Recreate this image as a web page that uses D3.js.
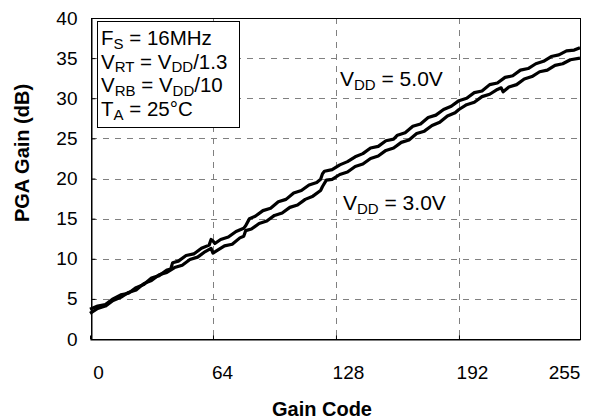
<!DOCTYPE html>
<html>
<head>
<meta charset="utf-8">
<script src="https://cdn.jsdelivr.net/npm/d3@7"></script>
<style>
  body { margin: 0; background: #fff; }
  svg { font-family: "Liberation Sans", Arial, sans-serif; }
</style>
</head>
<body>
<svg id="chart" width="600" height="419"></svg>
<script>
// Gain code vs PGA gain
const codes5 = [0, 4, 8, 12, 16, 20, 24, 28, 32, 36, 40, 42, 43, 46, 50, 54, 58, 62, 63, 64, 65, 68, 72, 76, 80, 81, 83, 86, 90, 94, 98, 102, 106, 110, 114, 118, 120, 121, 122, 126, 130, 134, 138, 142, 146, 150, 154, 158, 160, 164, 168, 172, 176, 180, 184, 188, 192, 196, 200, 204, 208, 212, 216, 220, 224, 228, 232, 236, 240, 244, 248, 252, 255];
const gain5 = [3.7, 4.1, 4.3, 5.0, 5.5, 5.7, 6.4, 6.8, 7.6, 7.9, 8.6, 8.7, 9.5, 9.7, 10.4, 10.6, 11.3, 11.7, 12.4, 12.2, 11.9, 12.4, 12.7, 13.4, 13.8, 14.1, 15.0, 15.3, 16.0, 16.3, 17.1, 17.4, 18.2, 18.5, 19.2, 19.5, 19.9, 20.6, 20.9, 21.1, 21.7, 22.1, 22.7, 23.1, 23.8, 24.0, 24.7, 24.9, 25.4, 25.7, 26.5, 26.8, 27.6, 27.9, 28.6, 29.0, 29.7, 30.0, 30.7, 30.9, 31.7, 31.9, 32.6, 32.8, 33.5, 33.7, 34.3, 34.6, 35.2, 35.4, 35.9, 36.0, 36.3];

const codes3 = [0, 4, 8, 12, 16, 20, 24, 28, 32, 36, 40, 44, 48, 52, 56, 60, 63, 64, 66, 70, 74, 78, 80, 81, 84, 88, 92, 96, 100, 104, 108, 112, 116, 120, 121, 123, 126, 130, 134, 138, 142, 146, 150, 154, 158, 162, 166, 170, 174, 178, 182, 186, 190, 192, 196, 200, 204, 208, 212, 214, 215, 218, 222, 226, 230, 234, 238, 242, 246, 250, 255];
const gain3 = [3.2, 3.8, 4.1, 4.8, 5.2, 5.8, 6.1, 6.9, 7.3, 8.0, 8.3, 8.9, 9.2, 9.9, 10.2, 10.9, 11.3, 10.7, 11.0, 11.6, 11.8, 12.6, 12.8, 13.5, 13.7, 14.4, 14.7, 15.4, 15.7, 16.4, 16.7, 17.4, 17.8, 18.5, 19.0, 19.8, 19.9, 20.5, 20.8, 21.5, 21.8, 22.5, 22.8, 23.5, 23.8, 24.5, 24.8, 25.6, 25.9, 26.6, 27.0, 27.8, 28.2, 28.6, 29.2, 29.5, 30.2, 30.5, 31.1, 31.3, 30.8, 31.4, 31.7, 32.4, 32.7, 33.3, 33.5, 34.1, 34.3, 34.8, 35.0];

const xTicks = [0, 64, 128, 192, 255];
const yTicks = [0, 5, 10, 15, 20, 25, 30, 35, 40];

const svg = d3.select('#chart');

const x = d3.scaleLinear().domain([0, 255]).range([90, 580]);
const y = d3.scaleLinear().domain([0, 40]).range([339, 18]);

// Grid
const grid = svg.append('g').attr('stroke', '#808080').attr('stroke-width', 1)
    .attr('stroke-dasharray', '6,6');
grid.selectAll('.hgrid')
    .data(yTicks.filter(d => d > 0 && d < 40))
    .enter().append('line')
    .attr('x1', x(0) + 1).attr('x2', x(255))
    .attr('y1', d => Math.round(y(d)) + 0.5).attr('y2', d => Math.round(y(d)) + 0.5);
grid.selectAll('.vgrid')
    .data([64, 128, 192])
    .enter().append('line')
    .attr('x1', d => Math.round(x(d)) + 0.5).attr('x2', d => Math.round(x(d)) + 0.5)
    .attr('y1', y(40)).attr('y2', y(0));

// Axes
const xAxis = svg.append('g')
    .attr('transform', 'translate(0,' + (y(0) + 0.5) + ')')
    .call(d3.axisBottom(x).tickValues(xTicks).tickSizeInner(-4).tickSizeOuter(0).tickPadding(26));
const labelShift = {0: 8, 64: 9, 128: 12, 192: 13, 255: -16};
xAxis.selectAll('text')
    .attr('dx', d => labelShift[d])
    .style('font-size', '19px')
    .attr('fill', '#000');
xAxis.select('.domain').attr('stroke', '#000');

const yAxis = svg.append('g')
    .attr('transform', 'translate(' + (x(0) + 1.5) + ',0)')
    .call(d3.axisLeft(y).tickValues(yTicks).tickSizeInner(-4).tickSizeOuter(0).tickPadding(14));
yAxis.selectAll('text').style('font-size', '19px').attr('fill', '#000');
yAxis.select('.domain').attr('stroke', '#000');

// Plot frame
svg.append('rect')
    .attr('x', x(0) + 1.5).attr('y', y(40) + 0.5)
    .attr('width', x(255) - x(0) - 1).attr('height', y(0) - y(40))
    .attr('fill', 'none').attr('stroke', '#000').attr('stroke-width', 1);

// Curves
const line = d3.line().x(d => x(d[0])).y(d => y(d[1]));
const series = [
    d3.zip(codes5, gain5),
    d3.zip(codes3, gain3)
];
svg.selectAll('.curve')
    .data(series)
    .enter().append('path')
    .attr('class', 'curve')
    .attr('d', line)
    .attr('fill', 'none')
    .attr('stroke', '#000')
    .attr('stroke-width', 3.2)
    .attr('stroke-linejoin', 'round');

// Axis titles
svg.append('text')
    .attr('x', 322).attr('y', 416)
    .attr('text-anchor', 'middle')
    .style('font-size', '20px').style('font-weight', 'bold')
    .text('Gain Code');
svg.append('text')
    .attr('transform', 'translate(29,153) rotate(-90)')
    .attr('text-anchor', 'middle')
    .style('font-size', '20px').style('font-weight', 'bold')
    .text('PGA Gain (dB)');

// Conditions box
svg.append('rect')
    .attr('x', 97.5).attr('y', 21.5).attr('width', 142).attr('height', 106)
    .attr('fill', '#fff').attr('stroke', '#000').attr('stroke-width', 1);

function subText(sel, parts) {
    parts.forEach(p => {
        sel.append('tspan')
            .attr('dy', p.sub ? 3.5 : (p.after ? -3.5 : 0))
            .style('font-size', p.sub ? '15px' : null)
            .text(p.t);
    });
}

const notes = [
    [{t: 'F'}, {t: 'S', sub: true}, {t: ' = 16MHz', after: true}],
    [{t: 'V'}, {t: 'RT', sub: true}, {t: ' = V', after: true}, {t: 'DD', sub: true}, {t: '/1.3', after: true}],
    [{t: 'V'}, {t: 'RB', sub: true}, {t: ' = V', after: true}, {t: 'DD', sub: true}, {t: '/10', after: true}],
    [{t: 'T'}, {t: 'A', sub: true}, {t: ' = 25°C', after: true}]
];
notes.forEach((parts, i) => {
    const t = svg.append('text')
        .attr('x', 101).attr('y', 45 + i * 23.7)
        .style('font-size', '20.5px');
    subText(t, parts);
});

// Curve labels
const lab5 = svg.append('text').attr('x', 340).attr('y', 86).style('font-size', '21px');
subText(lab5, [{t: 'V'}, {t: 'DD', sub: true}, {t: ' = 5.0V', after: true}]);
const lab3 = svg.append('text').attr('x', 343).attr('y', 210).style('font-size', '21px');
subText(lab3, [{t: 'V'}, {t: 'DD', sub: true}, {t: ' = 3.0V', after: true}]);
</script>
</body>
</html>
